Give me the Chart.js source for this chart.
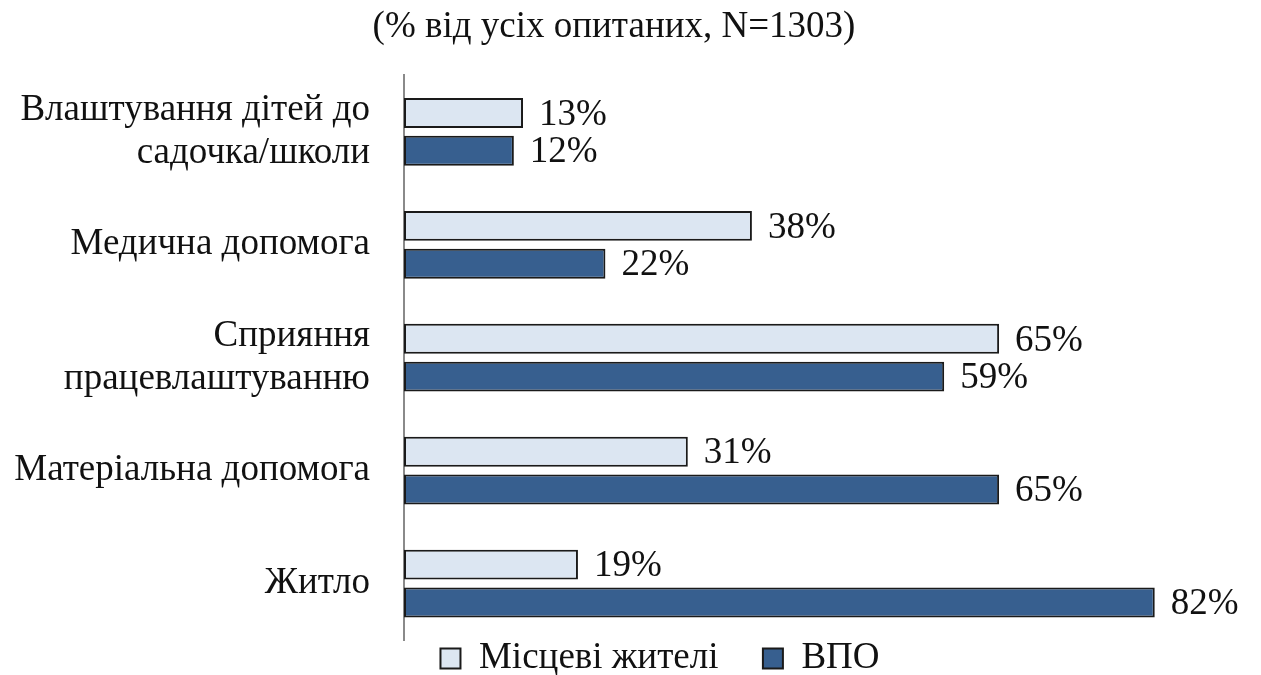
<!DOCTYPE html>
<html>
<head>
<meta charset="utf-8">
<script src="https://cdn.jsdelivr.net/npm/chart.js@4/dist/chart.umd.min.js"></script>
<style>
  html, body { margin: 0; padding: 0; background: #fff; overflow: hidden; }
  #wrap { width: 1261px; height: 675px; }
</style>
</head>
<body>
<div id="wrap"><canvas id="chart"></canvas></div>
<script>
// Дані з діаграми
const categories = [
  ['Влаштування дітей до', 'садочка/школи'],
  'Медична допомога',
  ['Сприяння', 'працевлаштуванню'],
  'Матеріальна допомога',
  'Житло'
];
const localValues = [13, 38, 65, 31, 19];   // Місцеві жителі
const idpValues = [12, 22, 59, 65, 82];     // ВПО
const seriesNames = ['Місцеві жителі', 'ВПО'];

const FONT = "'Liberation Serif', 'Times New Roman', serif";

// підписи значень справа від смуг
const valueLabels = {
  id: 'valueLabels',
  afterDatasetsDraw(chart) {
    const c = chart.ctx;
    c.save();
    c.font = '37px ' + FONT;
    c.fillStyle = '#111';
    c.textAlign = 'left';
    c.textBaseline = 'middle';
    chart.data.datasets.forEach((ds, i) => {
      chart.getDatasetMeta(i).data.forEach((bar, j) => {
        c.fillText(ds.data[j] + '%', bar.x + 16, bar.y + 2);
      });
    });
    c.restore();
  }
};

// легенда в оригіналі трохи зсунута праворуч
const legendShift = {
  id: 'legendShift',
  afterLayout(chart) {
    if (chart.legend) {
      chart.legend.left += 46;
      chart.legend.right += 46;
    }
  }
};

new Chart(document.getElementById('chart'), {
  type: 'bar',
  data: {
    labels: categories,
    datasets: [
      {
        label: seriesNames[0],
        data: localValues,
        backgroundColor: '#dce6f2',
        borderColor: '#1a1a1a',
        borderWidth: 2,
        borderSkipped: false
      },
      {
        label: seriesNames[1],
        data: idpValues,
        backgroundColor: '#375f8f',
        borderColor: '#1a1a1a',
        borderWidth: 2,
        borderSkipped: false
      }
    ]
  },
  options: {
    indexAxis: 'y',
    responsive: true,
    maintainAspectRatio: false,
    animation: false,
    categoryPercentage: 0.67,
    barPercentage: 0.79,
    layout: { padding: { left: 0, right: 33, top: 0, bottom: -12 } },
    scales: {
      x: {
        display: false,
        min: 0,
        max: 90
      },
      y: {
        grid: { display: false, drawTicks: false },
        border: { display: true, color: '#8a8a8a', width: 2 },
        ticks: {
          color: '#111',
          padding: 34,
          font: { family: FONT, size: 37, lineHeight: 1.15 }
        },
        afterFit(scale) {
          scale.width = 404;
          scale.paddingTop = 0;
          scale.paddingBottom = 0;
        }
      }
    },
    plugins: {
      title: {
        display: true,
        text: '(% від усіх опитаних, N=1303)',
        color: '#111',
        font: { family: FONT, size: 37, weight: 'normal', lineHeight: 1.2 },
        padding: { top: 5, bottom: 26 }
      },
      legend: {
        position: 'bottom',
        labels: {
          color: '#111',
          boxWidth: 20,
          boxHeight: 20,
          padding: 0,
          font: { family: FONT, size: 37, lineHeight: 0.75 },
          generateLabels(chart) {
            const items = Chart.defaults.plugins.legend.labels.generateLabels(chart);
            items.forEach((it, i) => {
              if (i < items.length - 1) it.text = it.text + '\u2003\u2009';
            });
            return items;
          }
        }
      },
      tooltip: { enabled: false }
    }
  },
  plugins: [valueLabels, legendShift]
});
</script>
</body>
</html>
